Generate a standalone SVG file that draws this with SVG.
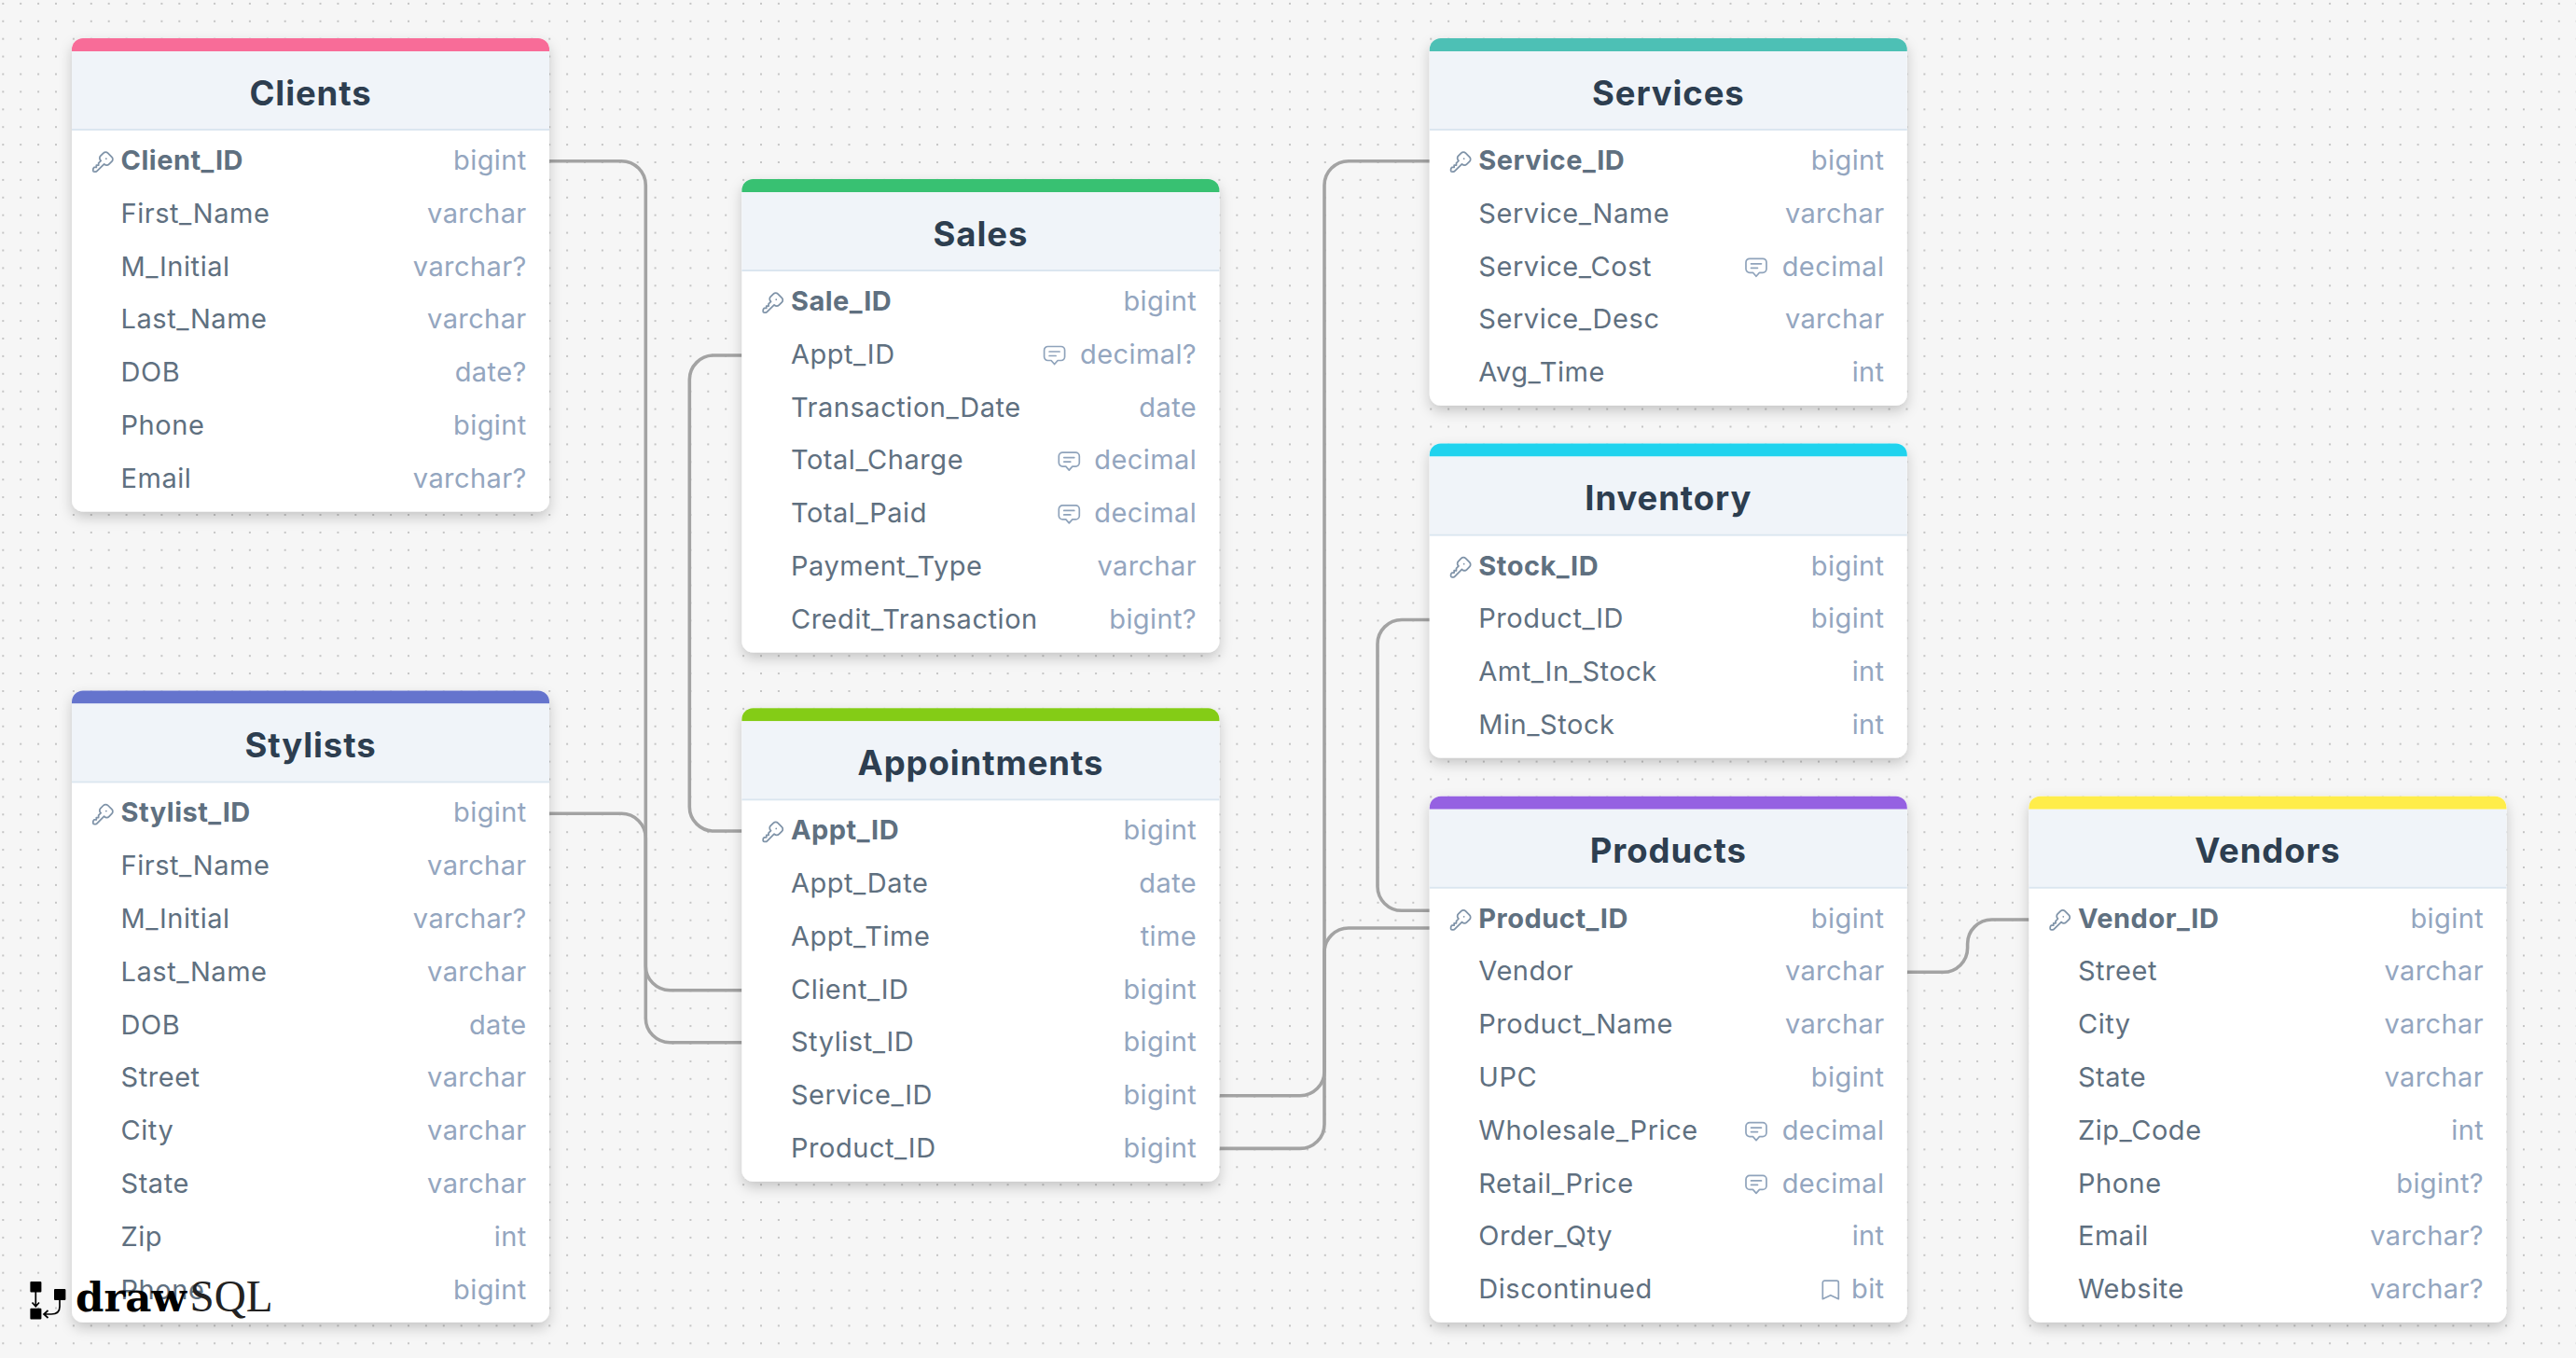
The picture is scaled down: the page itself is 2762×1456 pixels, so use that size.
<svg xmlns="http://www.w3.org/2000/svg" xmlns:xlink="http://www.w3.org/1999/xlink" width="2762" height="1456" viewBox="0 0 2762 1456">
<style>
text{font-family:"Inter","Noto Sans",sans-serif}
.t{font-size:36.5px;font-weight:700;fill:#2d3e50;text-anchor:middle;letter-spacing:.9px}
.n{font-size:29px;fill:#5f7080;letter-spacing:.55px}
.p{font-size:29px;font-weight:700;fill:#5f7080;letter-spacing:.5px}
.y{font-size:29px;fill:#94a6bf;text-anchor:end;letter-spacing:.4px}
.card{fill:#fff;filter:url(#sh)}
.hd{fill:#f0f4f9}
.ln{fill:#dbe6f0}
.ic{fill:none;stroke:#8fa3bb;stroke-width:1.7;stroke-linecap:round;stroke-linejoin:round}
.ik{fill:none;stroke:#7f93a8;stroke-width:1.5;stroke-linecap:round;stroke-linejoin:round}
.cn{fill:none;stroke:#a3a3a3;stroke-width:3.6}
</style>
<defs>
<pattern id="dots" width="18.9" height="18.9" patternUnits="userSpaceOnUse" x="2.3" y="2.9"><circle cx="1" cy="1" r="1" fill="#b4b4b4"/></pattern>
<filter id="sh" x="-10%" y="-10%" width="120%" height="120%"><feDropShadow dx="0" dy="6" stdDeviation="7" flood-color="#000" flood-opacity="0.2"/></filter>
<g id="key"><path class="ik" transform="scale(1.17)" d="M16.555 3.843l3.602 3.602a2.877 2.877 0 0 1 0 4.069l-2.643 2.643a2.877 2.877 0 0 1 -4.069 0l-.301 -.301l-6.558 6.558a2 2 0 0 1 -1.239 .578l-.175 .008h-1.172a1 1 0 0 1 -.993 -.883l-.007 -.117v-1.172a2 2 0 0 1 .467 -1.284l.119 -.13l.414 -.414h2v-2h2v-2l2.144 -2.144l-.301 -.301a2.877 2.877 0 0 1 0 -4.069l2.643 -2.643a2.877 2.877 0 0 1 4.069 0z M15 9h.01"/></g>
<g id="cm"><path class="ic" d="M5 1h14a4 4 0 0 1 4 4v7a4 4 0 0 1 -4 4h-3.5l-3.5 4l-3.500 -4h-3.500a4 4 0 0 1 -4 -4v-7a4 4 0 0 1 4 -4z M6.500 6.500h11 M6.500 11h7"/></g>
<g id="bm"><path class="ic" d="M3 1h13a2 2 0 0 1 2 2v17.500l-8.500 -4l-8.500 4v-17.500a2 2 0 0 1 2 -2z"/></g>
</defs>
<rect width="2762" height="1456" fill="#f6f6f6"/>
<rect width="2762" height="1456" fill="url(#dots)"/>
<g id="connectors">
<path class="cn" d="M589 172.700H666.300A26 26 0 0 1 692.300 198.700V1035.700A26 26 0 0 0 718.300 1061.700H795.400"/>
<path class="cn" d="M589 872.300H666.300A26 26 0 0 1 692.300 898.300V1091.700A26 26 0 0 0 718.300 1117.700H795.400"/>
<path class="cn" d="M795.400 381H765.300A26 26 0 0 0 739.300 407V865A26 26 0 0 0 765.300 891H795.400"/>
<path class="cn" d="M1307.600 1174.700H1394A26 26 0 0 0 1420 1148.700V198.700A26 26 0 0 1 1446 172.700H1532.800"/>
<path class="cn" d="M1307.600 1231.400H1394A26 26 0 0 0 1420 1205.400V1021A26 26 0 0 1 1446 995H1532.800"/>
<path class="cn" d="M1532.800 664.500H1503A26 26 0 0 0 1477 690.500V950.300A26 26 0 0 0 1503 976.300H1532.800"/>
<path class="cn" d="M2045 1042.300H2083.600A26 26 0 0 0 2109.600 1016.300V1012A26 26 0 0 1 2135.600 986H2175.600"/>
</g>
<g id="Clients" transform="translate(77 41)">
<rect class="card" width="512" height="507.400" rx="12"/>
<path fill="#f86c98" d="M0 14V12A12 12 0 0 1 12 0H500A12 12 0 0 1 512 12V14z"/>
<rect class="hd" y="14" width="512" height="83"/><rect class="ln" y="97" width="512" height="2"/>
<text class="t" x="256" y="71.500">Clients</text>
<use href="#key" transform="translate(19.300 118.600)"/>
<text class="p" x="52.500" y="141">Client_ID</text><text class="y" x="487.700" y="141">bigint</text>
<text class="n" x="52.500" y="197.800">First_Name</text><text class="y" x="487.700" y="197.800">varchar</text>
<text class="n" x="52.500" y="254.600">M_Initial</text><text class="y" x="487.700" y="254.600">varchar?</text>
<text class="n" x="52.500" y="311.400">Last_Name</text><text class="y" x="487.700" y="311.400">varchar</text>
<text class="n" x="52.500" y="368.200">DOB</text><text class="y" x="487.700" y="368.200">date?</text>
<text class="n" x="52.500" y="425">Phone</text><text class="y" x="487.700" y="425">bigint</text>
<text class="n" x="52.500" y="481.800">Email</text><text class="y" x="487.700" y="481.800">varchar?</text>
</g>
<g id="Stylists" transform="translate(77 740.400)">
<rect class="card" width="512" height="677.300" rx="12"/>
<path fill="#6574cd" d="M0 14V12A12 12 0 0 1 12 0H500A12 12 0 0 1 512 12V14z"/>
<rect class="hd" y="14" width="512" height="83"/><rect class="ln" y="97" width="512" height="2"/>
<text class="t" x="256" y="71.500">Stylists</text>
<use href="#key" transform="translate(19.300 118.600)"/>
<text class="p" x="52.500" y="141">Stylist_ID</text><text class="y" x="487.700" y="141">bigint</text>
<text class="n" x="52.500" y="197.800">First_Name</text><text class="y" x="487.700" y="197.800">varchar</text>
<text class="n" x="52.500" y="254.600">M_Initial</text><text class="y" x="487.700" y="254.600">varchar?</text>
<text class="n" x="52.500" y="311.400">Last_Name</text><text class="y" x="487.700" y="311.400">varchar</text>
<text class="n" x="52.500" y="368.200">DOB</text><text class="y" x="487.700" y="368.200">date</text>
<text class="n" x="52.500" y="425">Street</text><text class="y" x="487.700" y="425">varchar</text>
<text class="n" x="52.500" y="481.800">City</text><text class="y" x="487.700" y="481.800">varchar</text>
<text class="n" x="52.500" y="538.600">State</text><text class="y" x="487.700" y="538.600">varchar</text>
<text class="n" x="52.500" y="595.400">Zip</text><text class="y" x="487.700" y="595.400">int</text>
<text class="n" x="52.500" y="652.200">Phone</text><text class="y" x="487.700" y="652.200">bigint</text>
</g>
<g id="Sales" transform="translate(795.400 192)">
<rect class="card" width="512" height="507.500" rx="12"/>
<path fill="#38c172" d="M0 14V12A12 12 0 0 1 12 0H500A12 12 0 0 1 512 12V14z"/>
<rect class="hd" y="14" width="512" height="83"/><rect class="ln" y="97" width="512" height="2"/>
<text class="t" x="256" y="71.500">Sales</text>
<use href="#key" transform="translate(19.300 118.600)"/>
<text class="p" x="52.500" y="141">Sale_ID</text><text class="y" x="487.700" y="141">bigint</text>
<text class="n" x="52.500" y="197.800">Appt_ID</text><use href="#cm" transform="translate(323.200 178.500)"/><text class="y" x="487.700" y="197.800">decimal?</text>
<text class="n" x="52.500" y="254.600">Transaction_Date</text><text class="y" x="487.700" y="254.600">date</text>
<text class="n" x="52.500" y="311.400">Total_Charge</text><use href="#cm" transform="translate(338.900 292.100)"/><text class="y" x="487.700" y="311.400">decimal</text>
<text class="n" x="52.500" y="368.200">Total_Paid</text><use href="#cm" transform="translate(338.900 348.900)"/><text class="y" x="487.700" y="368.200">decimal</text>
<text class="n" x="52.500" y="425">Payment_Type</text><text class="y" x="487.700" y="425">varchar</text>
<text class="n" x="52.500" y="481.800">Credit_Transaction</text><text class="y" x="487.700" y="481.800">bigint?</text>
</g>
<g id="Appointments" transform="translate(795.400 759.300)">
<rect class="card" width="512" height="507.400" rx="12"/>
<path fill="#84cc16" d="M0 14V12A12 12 0 0 1 12 0H500A12 12 0 0 1 512 12V14z"/>
<rect class="hd" y="14" width="512" height="83"/><rect class="ln" y="97" width="512" height="2"/>
<text class="t" x="256" y="71.500">Appointments</text>
<use href="#key" transform="translate(19.300 118.600)"/>
<text class="p" x="52.500" y="141">Appt_ID</text><text class="y" x="487.700" y="141">bigint</text>
<text class="n" x="52.500" y="197.800">Appt_Date</text><text class="y" x="487.700" y="197.800">date</text>
<text class="n" x="52.500" y="254.600">Appt_Time</text><text class="y" x="487.700" y="254.600">time</text>
<text class="n" x="52.500" y="311.400">Client_ID</text><text class="y" x="487.700" y="311.400">bigint</text>
<text class="n" x="52.500" y="368.200">Stylist_ID</text><text class="y" x="487.700" y="368.200">bigint</text>
<text class="n" x="52.500" y="425">Service_ID</text><text class="y" x="487.700" y="425">bigint</text>
<text class="n" x="52.500" y="481.800">Product_ID</text><text class="y" x="487.700" y="481.800">bigint</text>
</g>
<g id="Services" transform="translate(1532.800 41)">
<rect class="card" width="512" height="393.700" rx="12"/>
<path fill="#4dc0b5" d="M0 14V12A12 12 0 0 1 12 0H500A12 12 0 0 1 512 12V14z"/>
<rect class="hd" y="14" width="512" height="83"/><rect class="ln" y="97" width="512" height="2"/>
<text class="t" x="256" y="71.500">Services</text>
<use href="#key" transform="translate(19.300 118.600)"/>
<text class="p" x="52.500" y="141">Service_ID</text><text class="y" x="487.700" y="141">bigint</text>
<text class="n" x="52.500" y="197.800">Service_Name</text><text class="y" x="487.700" y="197.800">varchar</text>
<text class="n" x="52.500" y="254.600">Service_Cost</text><use href="#cm" transform="translate(338.200 235.300)"/><text class="y" x="487.700" y="254.600">decimal</text>
<text class="n" x="52.500" y="311.400">Service_Desc</text><text class="y" x="487.700" y="311.400">varchar</text>
<text class="n" x="52.500" y="368.200">Avg_Time</text><text class="y" x="487.700" y="368.200">int</text>
</g>
<g id="Inventory" transform="translate(1532.800 475.600)">
<rect class="card" width="512" height="337" rx="12"/>
<path fill="#20d3ee" d="M0 14V12A12 12 0 0 1 12 0H500A12 12 0 0 1 512 12V14z"/>
<rect class="hd" y="14" width="512" height="83"/><rect class="ln" y="97" width="512" height="2"/>
<text class="t" x="256" y="71.500">Inventory</text>
<use href="#key" transform="translate(19.300 118.600)"/>
<text class="p" x="52.500" y="141">Stock_ID</text><text class="y" x="487.700" y="141">bigint</text>
<text class="n" x="52.500" y="197.800">Product_ID</text><text class="y" x="487.700" y="197.800">bigint</text>
<text class="n" x="52.500" y="254.600">Amt_In_Stock</text><text class="y" x="487.700" y="254.600">int</text>
<text class="n" x="52.500" y="311.400">Min_Stock</text><text class="y" x="487.700" y="311.400">int</text>
</g>
<g id="Products" transform="translate(1532.800 853.700)">
<rect class="card" width="512" height="564" rx="12"/>
<path fill="#9561e2" d="M0 14V12A12 12 0 0 1 12 0H500A12 12 0 0 1 512 12V14z"/>
<rect class="hd" y="14" width="512" height="83"/><rect class="ln" y="97" width="512" height="2"/>
<text class="t" x="256" y="71.500">Products</text>
<use href="#key" transform="translate(19.300 118.600)"/>
<text class="p" x="52.500" y="141">Product_ID</text><text class="y" x="487.700" y="141">bigint</text>
<text class="n" x="52.500" y="197.800">Vendor</text><text class="y" x="487.700" y="197.800">varchar</text>
<text class="n" x="52.500" y="254.600">Product_Name</text><text class="y" x="487.700" y="254.600">varchar</text>
<text class="n" x="52.500" y="311.400">UPC</text><text class="y" x="487.700" y="311.400">bigint</text>
<text class="n" x="52.500" y="368.200">Wholesale_Price</text><use href="#cm" transform="translate(338.200 348.900)"/><text class="y" x="487.700" y="368.200">decimal</text>
<text class="n" x="52.500" y="425">Retail_Price</text><use href="#cm" transform="translate(338.200 405.700)"/><text class="y" x="487.700" y="425">decimal</text>
<text class="n" x="52.500" y="481.800">Order_Qty</text><text class="y" x="487.700" y="481.800">int</text>
<text class="n" x="52.500" y="538.600">Discontinued</text><use href="#bm" transform="translate(420.500 518.500)"/><text class="y" x="487.700" y="538.600">bit</text>
</g>
<g id="Vendors" transform="translate(2175.400 853.700)">
<rect class="card" width="512" height="564" rx="12"/>
<path fill="#ffed4a" d="M0 14V12A12 12 0 0 1 12 0H500A12 12 0 0 1 512 12V14z"/>
<rect class="hd" y="14" width="512" height="83"/><rect class="ln" y="97" width="512" height="2"/>
<text class="t" x="256" y="71.500">Vendors</text>
<use href="#key" transform="translate(19.300 118.600)"/>
<text class="p" x="52.500" y="141">Vendor_ID</text><text class="y" x="487.700" y="141">bigint</text>
<text class="n" x="52.500" y="197.800">Street</text><text class="y" x="487.700" y="197.800">varchar</text>
<text class="n" x="52.500" y="254.600">City</text><text class="y" x="487.700" y="254.600">varchar</text>
<text class="n" x="52.500" y="311.400">State</text><text class="y" x="487.700" y="311.400">varchar</text>
<text class="n" x="52.500" y="368.200">Zip_Code</text><text class="y" x="487.700" y="368.200">int</text>
<text class="n" x="52.500" y="425">Phone</text><text class="y" x="487.700" y="425">bigint?</text>
<text class="n" x="52.500" y="481.800">Email</text><text class="y" x="487.700" y="481.800">varchar?</text>
<text class="n" x="52.500" y="538.600">Website</text><text class="y" x="487.700" y="538.600">varchar?</text>
</g>
<g id="logo">
<rect x="32.400" y="1374" width="12" height="11.500" rx="1"/>
<rect x="32.400" y="1402.700" width="12" height="11.700" rx="1"/>
<rect x="58" y="1382" width="12.400" height="12" rx="1"/>
<path fill="none" stroke="#000" stroke-width="1.700" d="M38.300 1385V1400.500M34.500 1396.500L38.300 1400.800L42 1396.500M64 1394V1401Q64 1409 55 1409H47.500M51.500 1405L47 1409L51.500 1413"/>
<text x="81" y="1406" font-weight="700" font-size="43" textLength="119" lengthAdjust="spacingAndGlyphs" style="font-family:'DejaVu Serif',serif;letter-spacing:0">draw</text>
<text x="203.600" y="1406" font-size="48" fill="#222" textLength="89" lengthAdjust="spacingAndGlyphs" style="font-family:'Liberation Serif',serif">SQL</text>
</g>
</svg>
